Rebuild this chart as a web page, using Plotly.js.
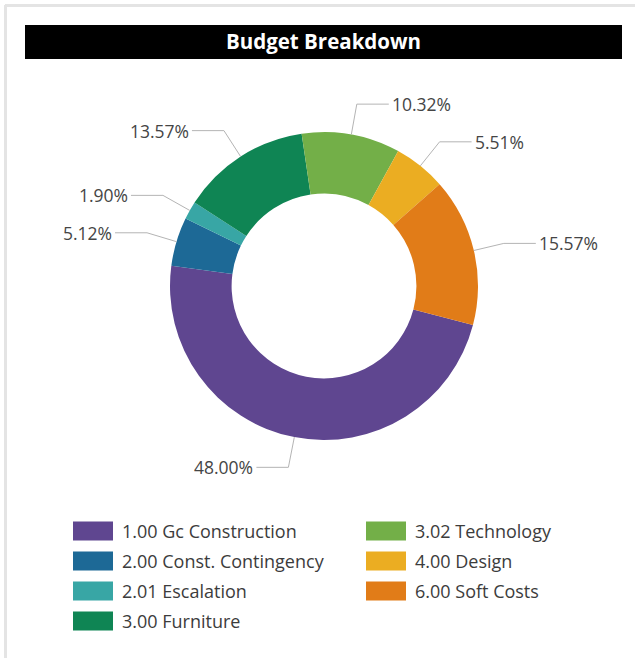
<!DOCTYPE html>
<html>
<head>
<meta charset="utf-8">
<script src="https://cdn.plot.ly/plotly-3.0.1.min.js"></script>
<style>html,body{margin:0;padding:0;background:#fff;}#chart{width:635px;height:658px;}</style>
</head>
<body>
<div id="chart"></div>
<script>
// ---- data ----
const categories = ['1.00 Gc Construction', '2.00 Const. Contingency', '2.01 Escalation', '3.00 Furniture', '3.02 Technology', '4.00 Design', '6.00 Soft Costs'];
const shares = [48.00, 5.12, 1.90, 13.57, 10.32, 5.51, 15.57];
const colors = ['#5F4690', '#1D6996', '#38A6A5', '#0F8554', '#73AF48', '#EBAD22', '#E17C18'];
const chartTitle = 'Budget Breakdown';

// ---- layout helpers (pixel -> paper) ----
const W = 635, H = 658;
const px = x => x / W;
const py = y => 1 - y / H;
const cx = 324, cy = 286, R = 154;
const rotationDeg = 104.7;
const FONT = '"Open Sans", "Noto Sans", sans-serif';

const shapes = [];
const annotations = [];

// frame edges
shapes.push({type: 'line', xref: 'paper', yref: 'paper', x0: px(5), x1: px(W), y0: py(5.5), y1: py(5.5), line: {color: '#e4e4e4', width: 3}, layer: 'below'});
shapes.push({type: 'line', xref: 'paper', yref: 'paper', x0: px(5.5), x1: px(5.5), y0: py(5), y1: py(H), line: {color: '#e4e4e4', width: 3}, layer: 'below'});

// title bar
shapes.push({type: 'rect', xref: 'paper', yref: 'paper', x0: px(25), x1: px(622), y0: py(59), y1: py(25), fillcolor: '#000', line: {width: 0}, layer: 'below'});

// leader lines + percent labels, computed from data
const total = shares.reduce((a, b) => a + b, 0);
let cum = 0;
shares.forEach((v, i) => {
  const theta = rotationDeg * Math.PI / 180 + 2 * Math.PI * (cum + v / 2) / total;
  cum += v;
  const ax = cx + R * Math.sin(theta), ay = cy - R * Math.cos(theta);
  const ex = cx + 1.2 * R * Math.sin(theta), ey = cy - 1.2 * R * Math.cos(theta);
  const right = Math.sin(theta) >= 0;
  const hx = ex + (right ? 32 : -32);
  shapes.push({type: 'path', xref: 'paper', yref: 'paper',
    path: `M${px(ax)},${py(ay)} L${px(ex)},${py(ey)} L${px(hx)},${py(ey)}`,
    line: {color: '#b4b4b4', width: 1}});
  annotations.push({xref: 'paper', yref: 'paper', x: px(hx + (right ? 1 : -1)), y: py(ey),
    xanchor: right ? 'left' : 'right', yanchor: 'middle', showarrow: false,
    text: v.toFixed(2) + '%', font: {family: FONT, size: 17.5, color: '#454545'}});
});

// custom legend
const legCols = [73, 366], legRows = [531, 561, 591, 621];
categories.forEach((c, i) => {
  const col = i < 4 ? 0 : 1, row = i < 4 ? i : i - 4;
  const x0 = legCols[col], yc = legRows[row];
  shapes.push({type: 'rect', xref: 'paper', yref: 'paper', x0: px(x0), x1: px(x0 + 40), y0: py(yc + 9.5), y1: py(yc - 9.5), fillcolor: colors[i], line: {width: 0}});
  annotations.push({xref: 'paper', yref: 'paper', x: px(x0 + 47), y: py(yc), xanchor: 'left', yanchor: 'middle', showarrow: false,
    text: c, font: {family: FONT, size: 18, color: '#3c3c3c'}});
});

const trace = {
  type: 'pie',
  labels: categories,
  values: shares,
  marker: {colors: colors, line: {width: 0}},
  hole: 0.6,
  sort: false,
  direction: 'clockwise',
  rotation: rotationDeg,
  textinfo: 'none',
  hoverinfo: 'label+percent',
  domain: {x: [px(cx - R), px(cx + R)], y: [py(cy + R), py(cy - R)]},
  showlegend: false
};

const layout = {
  width: W, height: H,
  margin: {l: 0, r: 0, t: 0, b: 0},
  paper_bgcolor: '#fff',
  showlegend: false,
  title: {text: '<b>' + chartTitle + '</b>', x: px(323.5), y: py(42), xref: 'paper', yref: 'paper', xanchor: 'center', yanchor: 'middle',
    font: {family: FONT, size: 20.5, color: '#fff'}},
  shapes: shapes,
  annotations: annotations
};

Plotly.newPlot('chart', [trace], layout, {staticPlot: true});
</script>
</body>
</html>
